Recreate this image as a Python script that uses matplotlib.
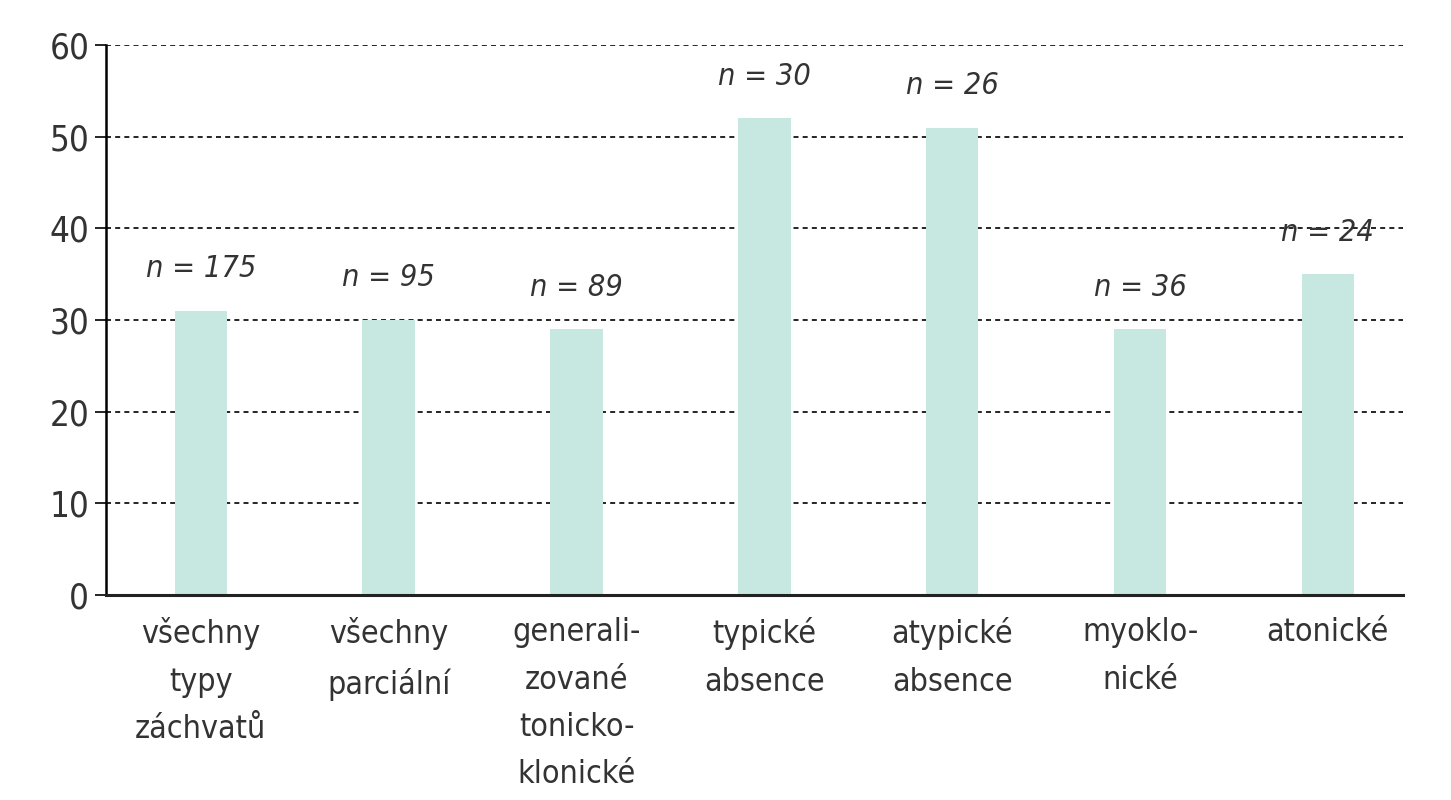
import matplotlib
matplotlib.use('Agg')
import matplotlib.pyplot as plt

categories = ['všechny\ntypy\nzáchvatů', 'všechny\nparciální',
              'generali-\nzované\ntonicko-\nklonické', 'typické\nabsence',
              'atypické\nabsence', 'myoklo-\nnické', 'atonické']
values = [31, 30, 29, 52, 51, 29, 35]
n_labels = ['n = 175', 'n = 95', 'n = 89', 'n = 30', 'n = 26', 'n = 36', 'n = 24']
yticks = [0, 10, 20, 30, 40, 50, 60]

plt.rcParams['font.family'] = ['DejaVu Sans']
plt.rcParams['font.stretch'] = 'condensed'

bar_color = '#c6e8e1'
text_color = '#333333'

fig = plt.figure(figsize=(14.51, 8.0), dpi=100)
ax = fig.add_axes([106 / 1451, 1 - 595 / 800, (1403 - 106) / 1451, 550 / 800])

x = list(range(len(categories)))
ax.bar(x, values, width=0.28, color=bar_color, zorder=2)

for xi, v, lab in zip(x, values, n_labels):
    ax.text(xi, v + 3.0, lab, ha='center', va='bottom', fontsize=22,
            style='italic', color=text_color, zorder=3)

ax.set_ylim(0, 60)
ax.set_xlim(-0.505, 6.4)
ax.set_yticks(yticks)
ax.set_xticks(x)
ax.set_xticklabels(categories, fontsize=23, color=text_color, linespacing=1.68)
ax.tick_params(axis='y', labelsize=25, labelcolor=text_color, length=8, width=1.2, pad=4)
ax.tick_params(axis='x', length=0, pad=16)

ax.yaxis.grid(True, linestyle=(0, (3, 2.5)), color='black', linewidth=1.2, zorder=1)
ax.set_axisbelow(True)
for s in ['top', 'right']:
    ax.spines[s].set_visible(False)
ax.spines['left'].set_linewidth(1.8)
ax.spines['bottom'].set_linewidth(2.2)
ax.spines['bottom'].set_color('#222222')

fig.savefig('out.png', dpi=100)
